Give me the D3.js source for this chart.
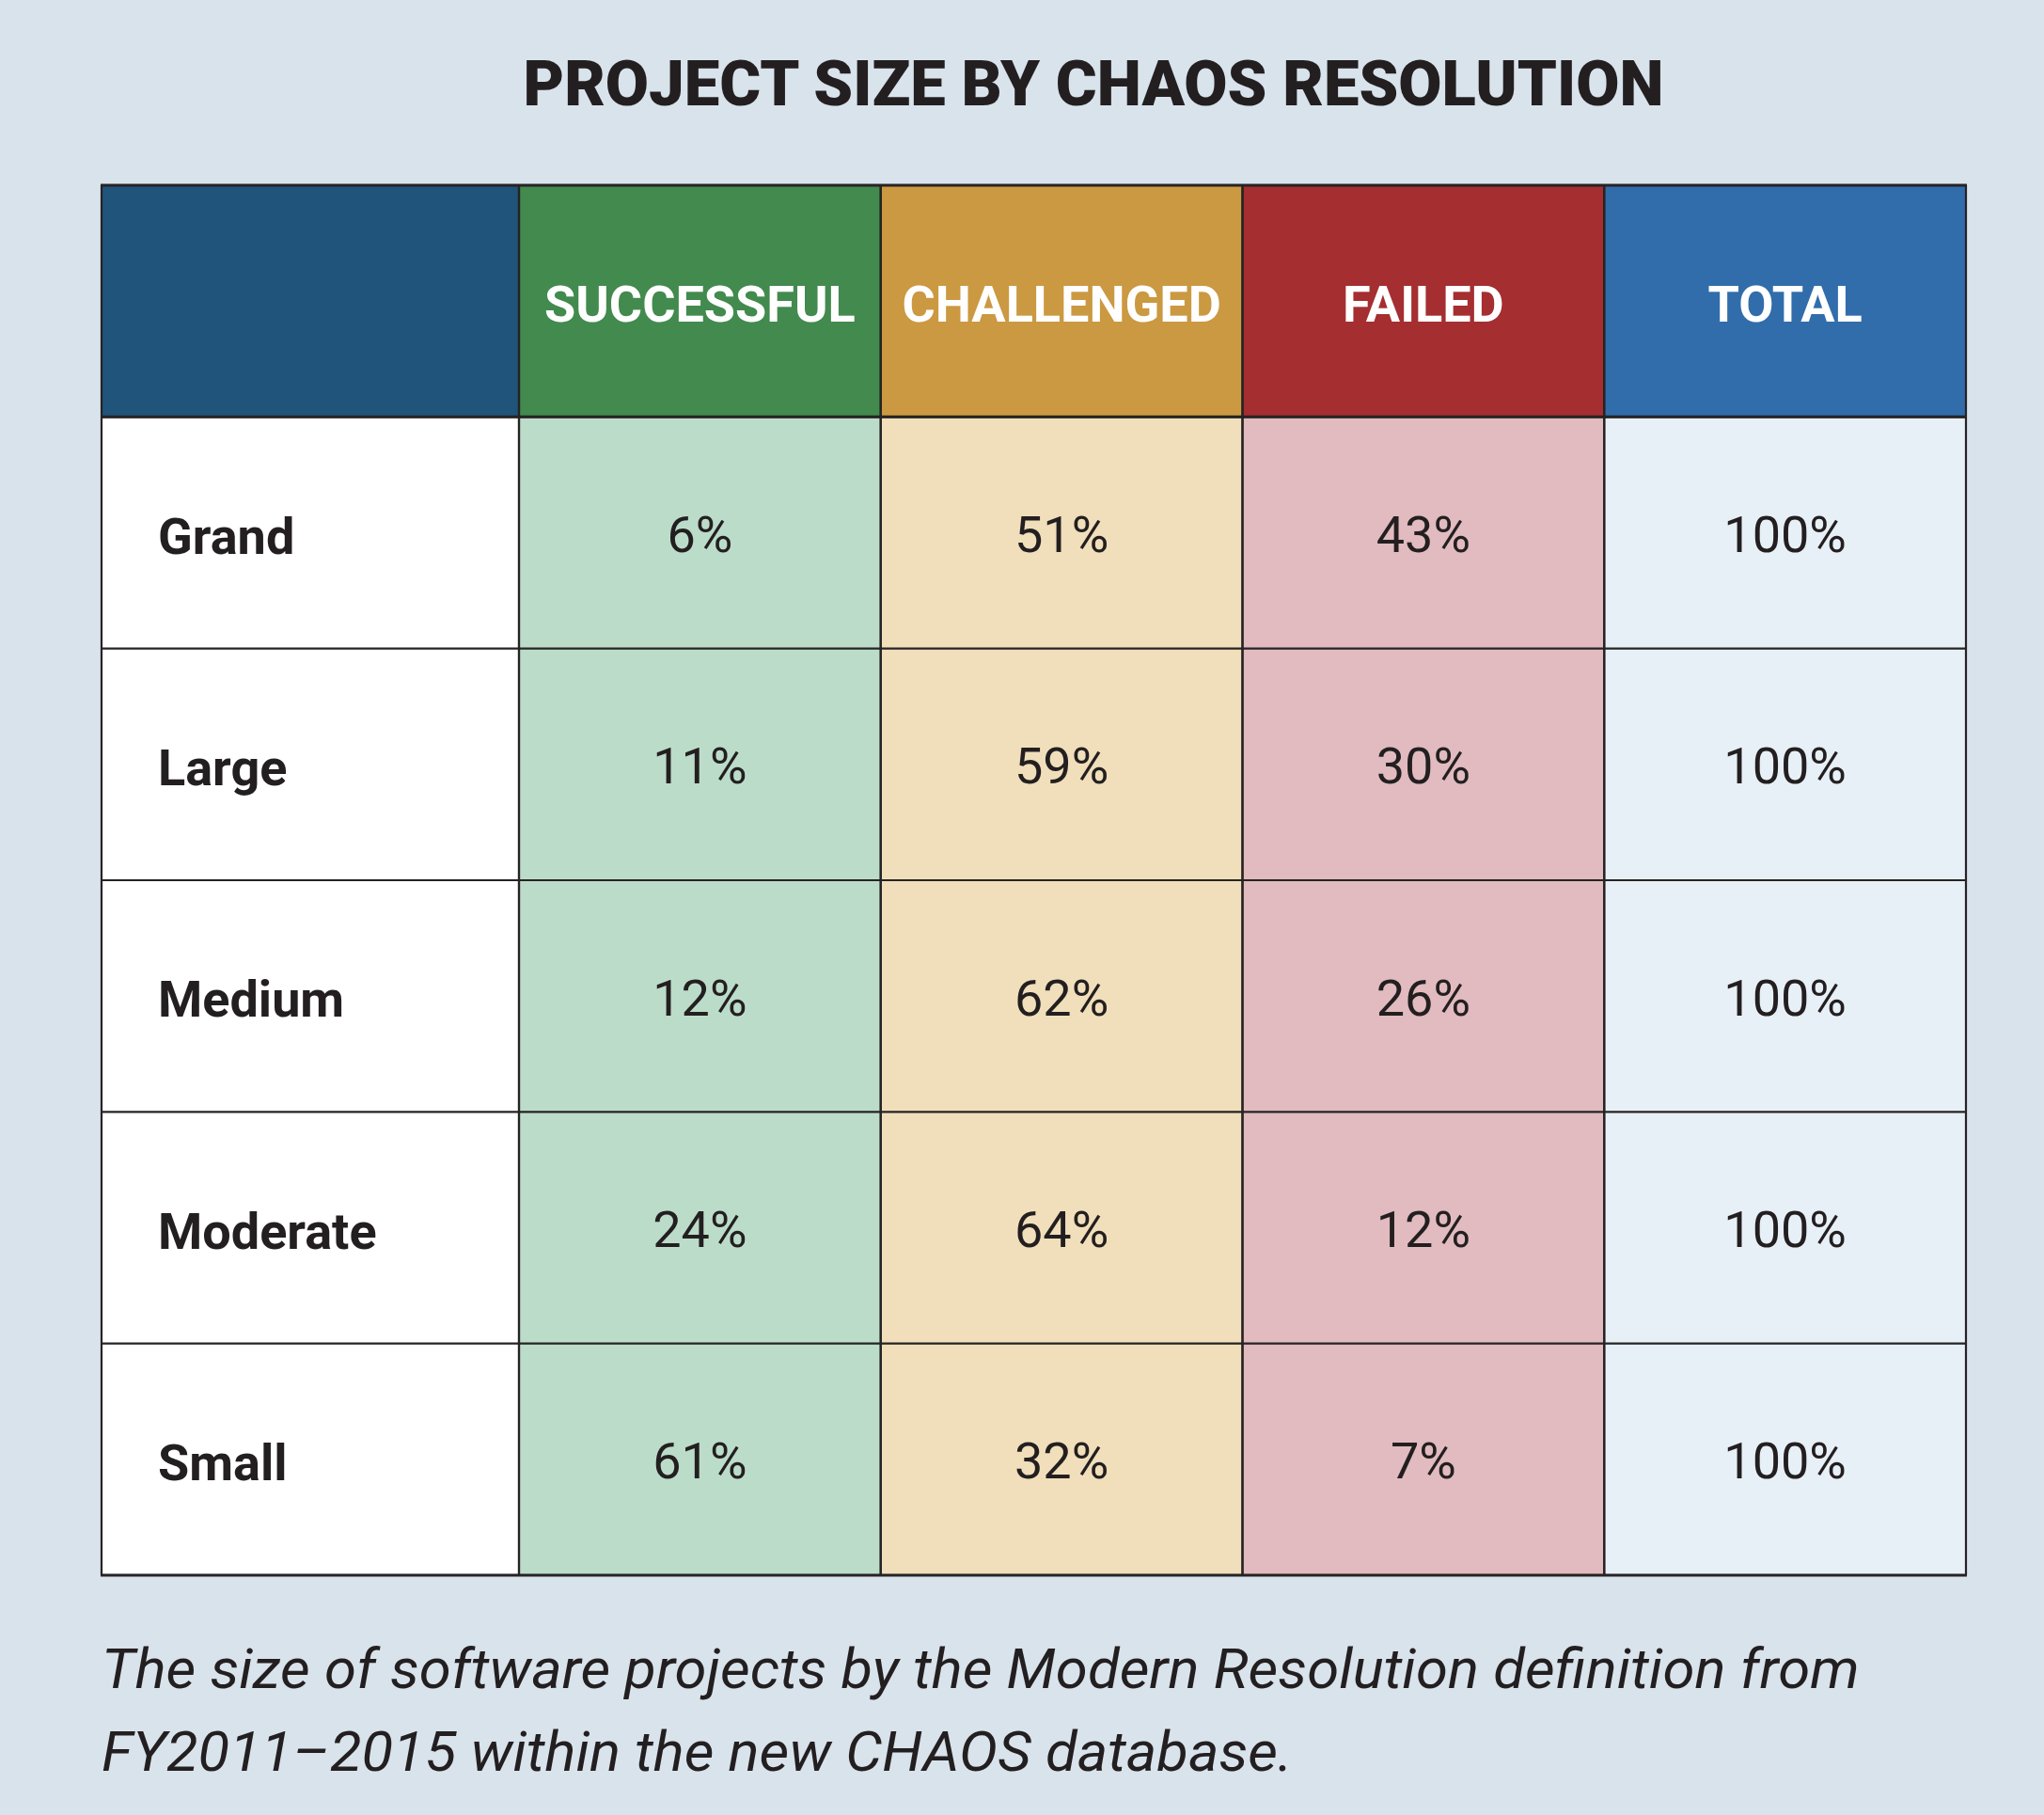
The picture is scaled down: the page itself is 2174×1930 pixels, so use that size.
<!DOCTYPE html>
<html>
<head>
<meta charset="utf-8">
<script src="https://cdn.jsdelivr.net/npm/d3@7"></script>
<style>
  html, body { margin: 0; padding: 0; background: #d9e3ec; }
  svg { display: block; }
</style>
</head>
<body>
<svg id="chart"></svg>
<script>
const title = "PROJECT SIZE BY CHAOS RESOLUTION";
const categories = ["Grand", "Large", "Medium", "Moderate", "Small"];
const columns = ["SUCCESSFUL", "CHALLENGED", "FAILED", "TOTAL"];
const successful = [6, 11, 12, 24, 61];
const challenged = [51, 59, 62, 64, 32];
const failed = [43, 30, 26, 12, 7];
const total = [100, 100, 100, 100, 100];
const captionLines = [
  "The size of software projects by the Modern Resolution definition from",
  "FY2011\u20132015 within the new CHAOS database."
];

const W = 2174, H = 1930;
const headColors = ["#20547a", "#428a4e", "#cb9941", "#a52e31", "#316dab"];
const cellColors = ["#ffffff", "#bcdcca", "#f0dfba", "#e1bbbf", "#e8f0f7"];
const ink = "#231f20";

const svg = d3.select("#chart").attr("width", W).attr("height", H);
svg.append("rect").attr("width", W).attr("height", H).attr("fill", "#d9e3ec");

const tableLeft = 108, labelRight = 552, tableRight = 2091;
const tableTop = 197, tableBottom = 1675;

const series = [successful, challenged, failed, total];
const rows = ["__header__"].concat(categories);

const y = d3.scaleBand().domain(rows).range([tableTop, tableBottom]);
const x = d3.scaleBand().domain(columns).range([labelRight, tableRight]);

// stretch/condense text horizontally by a ratio
function condense(sel, ratio) {
  sel.each(function() {
    const len = this.getComputedTextLength();
    d3.select(this).attr("textLength", len * ratio).attr("lengthAdjust", "spacingAndGlyphs");
  });
}

// Title
svg.append("text")
  .attr("x", 1163).attr("y", 112)
  .attr("text-anchor", "middle")
  .attr("font-family", "Roboto, 'Liberation Sans', sans-serif")
  .attr("font-weight", 900)
  .attr("font-size", 67)
  .attr("fill", ink)
  .text(title);

// Header row
const hy = y("__header__"), hh = y.bandwidth();
svg.append("rect").attr("x", tableLeft).attr("y", hy).attr("width", labelRight - tableLeft).attr("height", hh)
  .attr("fill", headColors[0]);
svg.selectAll("rect.head").data(columns).join("rect").attr("class", "head")
  .attr("x", d => x(d)).attr("y", hy).attr("width", x.bandwidth()).attr("height", hh)
  .attr("fill", (d, i) => headColors[i + 1]);
svg.selectAll("text.head").data(columns).join("text").attr("class", "head")
  .attr("x", d => x(d) + x.bandwidth() / 2)
  .attr("y", hy + hh / 2 + 22)
  .attr("text-anchor", "middle")
  .attr("font-family", "Roboto, 'Liberation Sans', sans-serif")
  .attr("font-weight", 700)
  .attr("font-size", 54)
  .attr("fill", "#ffffff")
  .text(d => d);

// Body rows
categories.forEach((cat, r) => {
  const ry = y(cat);
  svg.append("rect").attr("x", tableLeft).attr("y", ry).attr("width", labelRight - tableLeft).attr("height", y.bandwidth())
    .attr("fill", cellColors[0]);
  svg.append("text")
    .attr("x", 168).attr("y", ry + y.bandwidth() / 2 + 22)
    .attr("font-family", "Roboto, 'Liberation Sans', sans-serif")
    .attr("font-weight", 700)
    .attr("font-size", 54)
    .attr("fill", ink)
    .text(cat);
  columns.forEach((col, c) => {
    svg.append("rect").attr("x", x(col)).attr("y", ry).attr("width", x.bandwidth()).attr("height", y.bandwidth())
      .attr("fill", cellColors[c + 1]);
    svg.append("text")
      .attr("x", x(col) + x.bandwidth() / 2)
      .attr("y", ry + y.bandwidth() / 2 + 20.5)
      .attr("text-anchor", "middle")
      .attr("font-family", "Roboto, 'Liberation Sans', sans-serif")
      .attr("font-weight", 400)
      .attr("font-size", 54)
      .attr("fill", ink)
      .text(series[c][r] + "%");
  });
});

// Grid lines
const lineColor = "#262324";
const g = svg.append("g").attr("stroke", lineColor).attr("fill", "none");
rows.forEach(rw => {
  g.append("line").attr("x1", tableLeft).attr("x2", tableRight).attr("y1", y(rw)).attr("y2", y(rw)).attr("stroke-width", 2.2);
});
g.append("line").attr("x1", tableLeft - 1).attr("x2", tableRight + 1).attr("y1", tableTop).attr("y2", tableTop).attr("stroke-width", 3);
g.append("line").attr("x1", tableLeft - 1).attr("x2", tableRight + 1).attr("y1", tableBottom).attr("y2", tableBottom).attr("stroke-width", 3);
g.append("line").attr("x1", tableLeft).attr("x2", tableRight).attr("y1", y(categories[0])).attr("y2", y(categories[0])).attr("stroke-width", 3);
[tableLeft, labelRight].concat(columns.map(c => x(c) + x.bandwidth())).forEach(xx => {
  g.append("line").attr("x1", xx).attr("x2", xx).attr("y1", tableTop).attr("y2", tableBottom).attr("stroke-width", 2.2);
});
columns.forEach(c => {
  g.append("line").attr("x1", x(c)).attr("x2", x(c)).attr("y1", tableTop).attr("y2", tableBottom).attr("stroke-width", 2.2);
});

// Caption
svg.selectAll("text.caption").data(captionLines).join("text").attr("class", "caption")
  .attr("x", 108)
  .attr("y", (d, i) => 1795 + i * 88)
  .attr("font-family", "Roboto, 'Liberation Sans', sans-serif")
  .attr("font-style", "italic")
  .attr("font-weight", 400)
  .attr("font-size", 59)
  .attr("fill", ink)
  .text(d => d)
  .call(condense, 1.045);
</script>
</body>
</html>
